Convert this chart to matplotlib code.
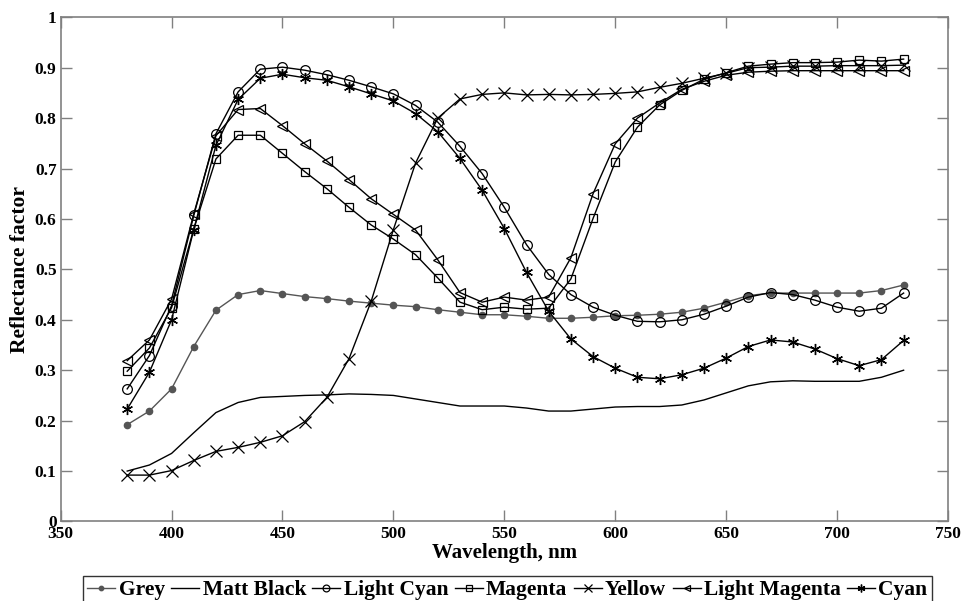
import matplotlib
matplotlib.use("Agg")
import matplotlib.pyplot as plt
import numpy as np

wavelength = list(range(380, 740, 10))

grey = [0.192, 0.219, 0.263, 0.347, 0.419, 0.450, 0.458, 0.452, 0.446, 0.442, 0.437, 0.433,
        0.429, 0.426, 0.420, 0.415, 0.410, 0.410, 0.407, 0.403, 0.403, 0.405, 0.408, 0.409,
        0.411, 0.415, 0.423, 0.435, 0.448, 0.453, 0.453, 0.453, 0.453, 0.453, 0.458, 0.469]
matt_black = [0.100, 0.112, 0.135, 0.176, 0.216, 0.236, 0.246, 0.248, 0.250, 0.251, 0.253, 0.252,
              0.250, 0.243, 0.236, 0.229, 0.229, 0.229, 0.225, 0.219, 0.219, 0.223, 0.227, 0.228,
              0.228, 0.231, 0.241, 0.255, 0.269, 0.277, 0.279, 0.278, 0.278, 0.278, 0.286, 0.300]
light_cyan = [0.263, 0.329, 0.428, 0.607, 0.769, 0.852, 0.897, 0.901, 0.895, 0.886, 0.875, 0.862,
              0.848, 0.825, 0.792, 0.744, 0.690, 0.623, 0.549, 0.490, 0.450, 0.425, 0.409, 0.397,
              0.396, 0.400, 0.411, 0.427, 0.445, 0.454, 0.450, 0.439, 0.425, 0.417, 0.423, 0.453]
magenta = [0.298, 0.344, 0.424, 0.580, 0.719, 0.766, 0.766, 0.730, 0.694, 0.660, 0.623, 0.588,
           0.560, 0.529, 0.483, 0.435, 0.420, 0.425, 0.421, 0.423, 0.481, 0.601, 0.713, 0.782,
           0.826, 0.855, 0.877, 0.890, 0.903, 0.907, 0.910, 0.910, 0.911, 0.915, 0.913, 0.917]
yellow = [0.092, 0.092, 0.101, 0.121, 0.139, 0.147, 0.157, 0.170, 0.198, 0.246, 0.323, 0.437,
          0.579, 0.711, 0.800, 0.838, 0.847, 0.850, 0.846, 0.847, 0.846, 0.847, 0.849, 0.852,
          0.861, 0.869, 0.879, 0.889, 0.900, 0.901, 0.903, 0.903, 0.904, 0.904, 0.904, 0.905]
light_magenta = [0.319, 0.360, 0.441, 0.610, 0.765, 0.817, 0.819, 0.785, 0.749, 0.715, 0.678, 0.640,
                 0.609, 0.578, 0.519, 0.454, 0.435, 0.445, 0.439, 0.445, 0.523, 0.650, 0.749, 0.800,
                 0.830, 0.857, 0.873, 0.885, 0.891, 0.893, 0.894, 0.894, 0.894, 0.894, 0.894, 0.894]
cyan = [0.223, 0.296, 0.400, 0.579, 0.746, 0.837, 0.879, 0.887, 0.880, 0.875, 0.862, 0.848,
        0.834, 0.809, 0.773, 0.720, 0.657, 0.581, 0.494, 0.417, 0.362, 0.327, 0.304, 0.286,
        0.283, 0.291, 0.304, 0.324, 0.347, 0.360, 0.356, 0.342, 0.323, 0.309, 0.321, 0.359]

series_names = ["Grey", "Matt Black", "Light Cyan", "Magenta", "Yellow", "Light Magenta", "Cyan"]

plt.rcParams['font.family'] = ['Liberation Serif', 'DejaVu Serif']
plt.rcParams['font.weight'] = 'bold'

fig = plt.figure(figsize=(9.63, 6.01), dpi=100)
ax = fig.add_axes([0.063, 0.1323, 0.9214, 0.839])

lw = 1.0
ax.plot(wavelength, grey, color='#555555', marker='o', markersize=4.5, lw=lw,
        label=series_names[0])
ax.plot(wavelength, matt_black, color='black', lw=lw, label=series_names[1])
ax.plot(wavelength, light_cyan, color='black', marker='o', mfc='none', markersize=7, mew=0.9,
        lw=lw, label=series_names[2])
ax.plot(wavelength, magenta, color='black', marker='s', mfc='none', markersize=6, mew=0.9,
        lw=lw, label=series_names[3])
ax.plot(wavelength, yellow, color='black', marker='x', markersize=8, mew=0.9,
        lw=lw, label=series_names[4])
ax.plot(wavelength, light_magenta, color='black', marker='<', mfc='none', markersize=7, mew=0.9,
        lw=lw, label=series_names[5])
ax.plot(wavelength, cyan, color='black', marker=(6, 2, 0), markersize=8, mew=1.0,
        lw=lw, label=series_names[6])

ax.set_xlim(350, 750)
ax.set_ylim(0, 1)
xticks = list(range(350, 800, 50))
yticks = [0, 0.1, 0.2, 0.3, 0.4, 0.5, 0.6, 0.7, 0.8, 0.9, 1]
ytick_labels = ["0", "0.1", "0.2", "0.3", "0.4", "0.5", "0.6", "0.7", "0.8", "0.9", "1"]
ax.set_xticks(xticks)
ax.set_xticklabels([str(t) for t in xticks], fontsize=12.5, fontweight='bold')
ax.set_yticks(yticks)
ax.set_yticklabels(ytick_labels, fontsize=12.5, fontweight='bold')
ax.tick_params(direction='in', length=8, width=1, color='#808080', top=True, right=True, pad=3)
for s in ax.spines.values():
    s.set_color('#808080')
    s.set_linewidth(1.2)

ax.set_xlabel("Wavelength, nm", fontsize=15, fontweight='bold', labelpad=1)
ax.set_ylabel("Reflectance factor", fontsize=15.5, fontweight='bold', labelpad=3)

leg = fig.legend(loc='upper center', bbox_to_anchor=(0.527, 0.0416), ncol=7,
                 prop={'family': 'Liberation Serif', 'weight': 'bold', 'size': 15.5},
                 handlelength=1.3, handletextpad=0.15, columnspacing=0.3,
                 borderpad=0.2, frameon=True, fancybox=False, borderaxespad=0)
leg.get_frame().set_edgecolor('black')
leg.get_frame().set_linewidth(1.0)
for h in leg.legend_handles:
    if hasattr(h, 'set_markersize'):
        h.set_markersize(h.get_markersize() * 0.7)

fig.savefig("out.png", dpi=100)
